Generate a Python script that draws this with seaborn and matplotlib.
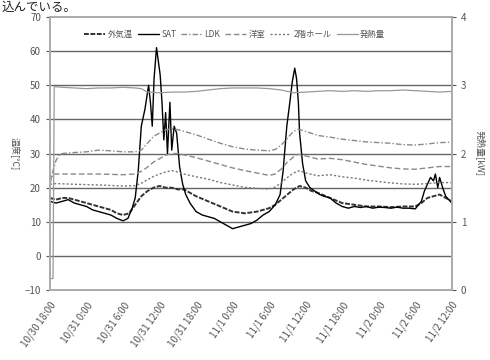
import matplotlib
matplotlib.use("Agg")
import matplotlib.pyplot as plt
import seaborn as sns

# --- data (hours from 10/30 18:00) ---
sat_h = [0, 1, 2, 3, 4, 5, 6, 7, 8, 9, 10, 11, 12, 12.8, 13.5, 14, 14.5, 15, 15.6,
         16.2, 16.5, 16.8, 17.1, 17.5, 17.8, 18.1, 18.4, 18.7, 19, 19.3, 19.7, 20,
         20.4, 20.8, 21.3, 21.8, 22.3, 23, 24, 25, 26, 27, 28, 29, 30, 31, 32, 33,
         34, 35, 36, 37, 37.8, 38.3, 38.9, 39.4, 39.8, 40.2, 40.5, 40.8, 41, 41.5,
         42, 42.7, 43.5, 44.3, 45, 46, 47, 48, 49, 50, 51, 52, 53, 54, 55, 56, 57,
         58, 59, 60, 61, 61.5, 62, 62.5, 63, 63.3, 63.7, 64, 64.5, 65, 66]
sat = [16, 15.5, 16, 16.5, 15.5, 15, 14.5, 13.5, 13, 12.5, 12, 11, 10.3, 11, 14, 17,
       25, 38, 43, 50, 45, 38, 52, 61, 57, 53, 45, 34, 42, 30, 45, 31, 38, 36, 26,
       21, 18, 15.5, 13, 12, 11.5, 11, 10, 9, 8, 8.5, 9, 9.5, 10.5, 12, 13, 15, 18,
       25, 38, 45, 51, 55, 52, 45, 36, 27, 22, 20, 19, 18, 17.5, 17, 15.5, 14.5, 14,
       14.5, 14.2, 14.5, 14, 14.3, 14.2, 14, 14.3, 14, 14, 13.8, 16, 19, 21, 23, 22,
       24, 20, 23, 20, 17.5, 15.5]

out_h = [0, 1, 2, 3, 4, 5, 6, 7, 8, 9, 10, 11, 12, 13, 14, 15, 16, 17, 18, 19, 20,
         21, 22, 23, 24, 26, 28, 30, 32, 34, 36, 37, 38, 39, 40, 41, 42, 43, 44, 46,
         48, 50, 52, 54, 56, 58, 60, 61, 62, 63, 64, 65, 66]
outdoor = [17, 16.5, 17, 17, 16.5, 16, 15.5, 15, 14.5, 14, 13.5, 12.5, 12, 12.5, 15,
           17.5, 19, 20, 20.5, 20, 20, 19.5, 19.5, 18.5, 17.5, 16, 14.5, 13, 12.5, 13,
           14, 15, 16.5, 18, 19.5, 20.5, 20, 19, 18.5, 17, 15.5, 15, 14.5, 14.5, 14.3,
           14.5, 14.5, 15.5, 17, 17.5, 18, 17, 16]

ldk_h = [0, 0.5, 1, 1.5, 2, 4, 6, 8, 10, 12, 14, 15, 16, 17, 18, 19, 20, 21, 22, 24,
         26, 28, 30, 32, 34, 36, 37, 38, 39, 40, 40.8, 42, 44, 46, 48, 50, 52, 54,
         56, 58, 60, 62, 64, 66]
ldk = [21, 25, 28, 29.5, 30, 30.3, 30.5, 31, 30.8, 30.5, 30.5, 31, 33, 35, 36, 37,
       37.2, 37, 36.5, 35.5, 34.2, 33, 32, 31.3, 31, 30.8, 31.2, 32.5, 34.5, 36.5,
       37.1, 36.5, 35.3, 34.8, 34.2, 33.8, 33.4, 33.2, 33, 32.6, 32.5, 32.8, 33.2, 33.3]

room_h = [0, 0.5, 1, 4, 8, 12, 14, 15, 16, 17, 18, 19, 20, 21, 22, 24, 26, 28, 30,
          32, 34, 36, 37, 38, 39, 40, 40.8, 42, 44, 46, 48, 50, 52, 54, 56, 58, 60,
          62, 64, 66]
room = [22, 24, 24, 24, 24, 23.8, 24, 24.8, 26, 27.5, 28.5, 29.5, 30, 30, 29.6, 28.8,
        27.8, 26.8, 25.8, 25, 24.3, 23.6, 24, 25.5, 27.5, 29, 29.8, 29.3, 28.4, 28.6,
        28.2, 27.5, 26.8, 26.3, 25.8, 25.5, 25.4, 25.8, 26.2, 26.2]

hall_h = [0, 1, 4, 8, 12, 14, 15, 16, 17, 18, 19, 20, 21, 22, 24, 26, 28, 30, 32, 34,
          36, 37, 38, 39, 40, 41, 42, 44, 46, 48, 50, 52, 54, 56, 58, 60, 62, 64, 66]
hall = [21, 21.2, 21, 20.8, 20.5, 20.6, 21.3, 22.3, 23.3, 24, 24.6, 25, 24.6, 24,
        23.2, 22.5, 21.5, 20.8, 20.1, 19.8, 19.6, 20.2, 21.5, 23, 24.3, 25, 24.3, 23.5,
        23.8, 23.2, 22.8, 22.2, 21.8, 21.4, 21.1, 21, 21.2, 21.5, 21.5]

heat_h = [0, 0.5, 0.7, 2, 4, 6, 8, 10, 12, 14, 15, 16, 18, 20, 22, 24, 26, 28, 30, 32,
          34, 36, 38, 40, 42, 44, 46, 48, 50, 52, 54, 56, 58, 60, 62, 64, 66]
heat = [0.17, 0.17, 2.98, 2.97, 2.96, 2.95, 2.96, 2.96, 2.97, 2.96, 2.95, 2.9, 2.89,
        2.9, 2.9, 2.91, 2.93, 2.95, 2.96, 2.96, 2.96, 2.95, 2.93, 2.89, 2.9, 2.91,
        2.92, 2.91, 2.92, 2.91, 2.92, 2.92, 2.93, 2.92, 2.91, 2.9, 2.91]

tick_labels = ["10/30 18:00", "10/31 0:00", "10/31 6:00", "10/31 12:00", "10/31 18:00",
               "11/1 0:00", "11/1 6:00", "11/1 12:00", "11/1 18:00", "11/2 0:00",
               "11/2 6:00", "11/2 12:00"]

labels = ["外気温", "SAT", "LDK", "洋室", "2階ホール", "発熱量"]

sns.set_style("white")
plt.rcParams["font.family"] = ["Noto Sans CJK JP", "DejaVu Sans"]

fig = plt.figure(figsize=(4.9, 3.6), dpi=100)
ax = fig.add_axes([0.102, 0.194, 0.820, 0.759])
ax2 = ax.twinx()

grey_txt = "#555555"

sns.lineplot(x=out_h, y=outdoor, ax=ax, color="#333333", lw=1.4, dashes=(2.5, 0.8),
             label=labels[0])
sns.lineplot(x=sat_h, y=sat, ax=ax, color="black", lw=1.0, label=labels[1])
sns.lineplot(x=ldk_h, y=ldk, ax=ax, color="#8a8a8a", lw=1.0, dashes=(4, 1.5, 1, 1.5),
             label=labels[2])
sns.lineplot(x=room_h, y=room, ax=ax, color="#8a8a8a", lw=1.0, dashes=(4, 2),
             label=labels[3])
sns.lineplot(x=hall_h, y=hall, ax=ax, color="#777777", lw=1.0, dashes=(1.5, 1.5),
             label=labels[4])
sns.lineplot(x=heat_h, y=heat, ax=ax2, color="#999999", lw=0.9, label=labels[5])

ax.set_xlim(0, 66)
ax.set_ylim(-10, 70)
ax.set_yticks(range(-10, 71, 10))
ax.set_xticks(range(0, 67, 6))
ax.set_xticklabels(tick_labels, rotation=55, ha="right", rotation_mode="anchor",
                   fontsize=7, color=grey_txt)
ax.tick_params(axis="y", labelsize=7, colors=grey_txt, length=3)
ax.tick_params(axis="x", length=3, colors="#999999", labelcolor=grey_txt, pad=4)
for y in range(0, 61, 10):
    ax.axhline(y, color="#666666", lw=1.0, zorder=0)

ax2.set_ylim(0, 4)
ax2.set_yticks(range(0, 5))
ax2.tick_params(axis="y", labelsize=7, colors=grey_txt, length=3)

for a in (ax, ax2):
    for s in a.spines.values():
        s.set_color("#aaaaaa")
        s.set_linewidth(1.2)

ax.set_ylabel("温度[℃]", fontsize=6.5, color=grey_txt, rotation=-90, labelpad=10)
ax2.set_ylabel("発熱量[kW]", fontsize=6.5, color=grey_txt, rotation=-90, labelpad=14)

h1, l1 = ax.get_legend_handles_labels()
h2, l2 = ax2.get_legend_handles_labels()
ax.get_legend().remove()
ax2.get_legend().remove()
ax2.legend(h1 + h2, l1 + l2, loc="upper center", bbox_to_anchor=(0.46, 0.98), ncol=6,
           frameon=False, fontsize=6, handlelength=2.5, columnspacing=0.6,
           handletextpad=0.3, labelcolor=grey_txt)

fig.text(0.003, 0.997, "込んでいる。", fontsize=9, va="top", ha="left", color="#222222")

fig.savefig("out.png", dpi=100)
